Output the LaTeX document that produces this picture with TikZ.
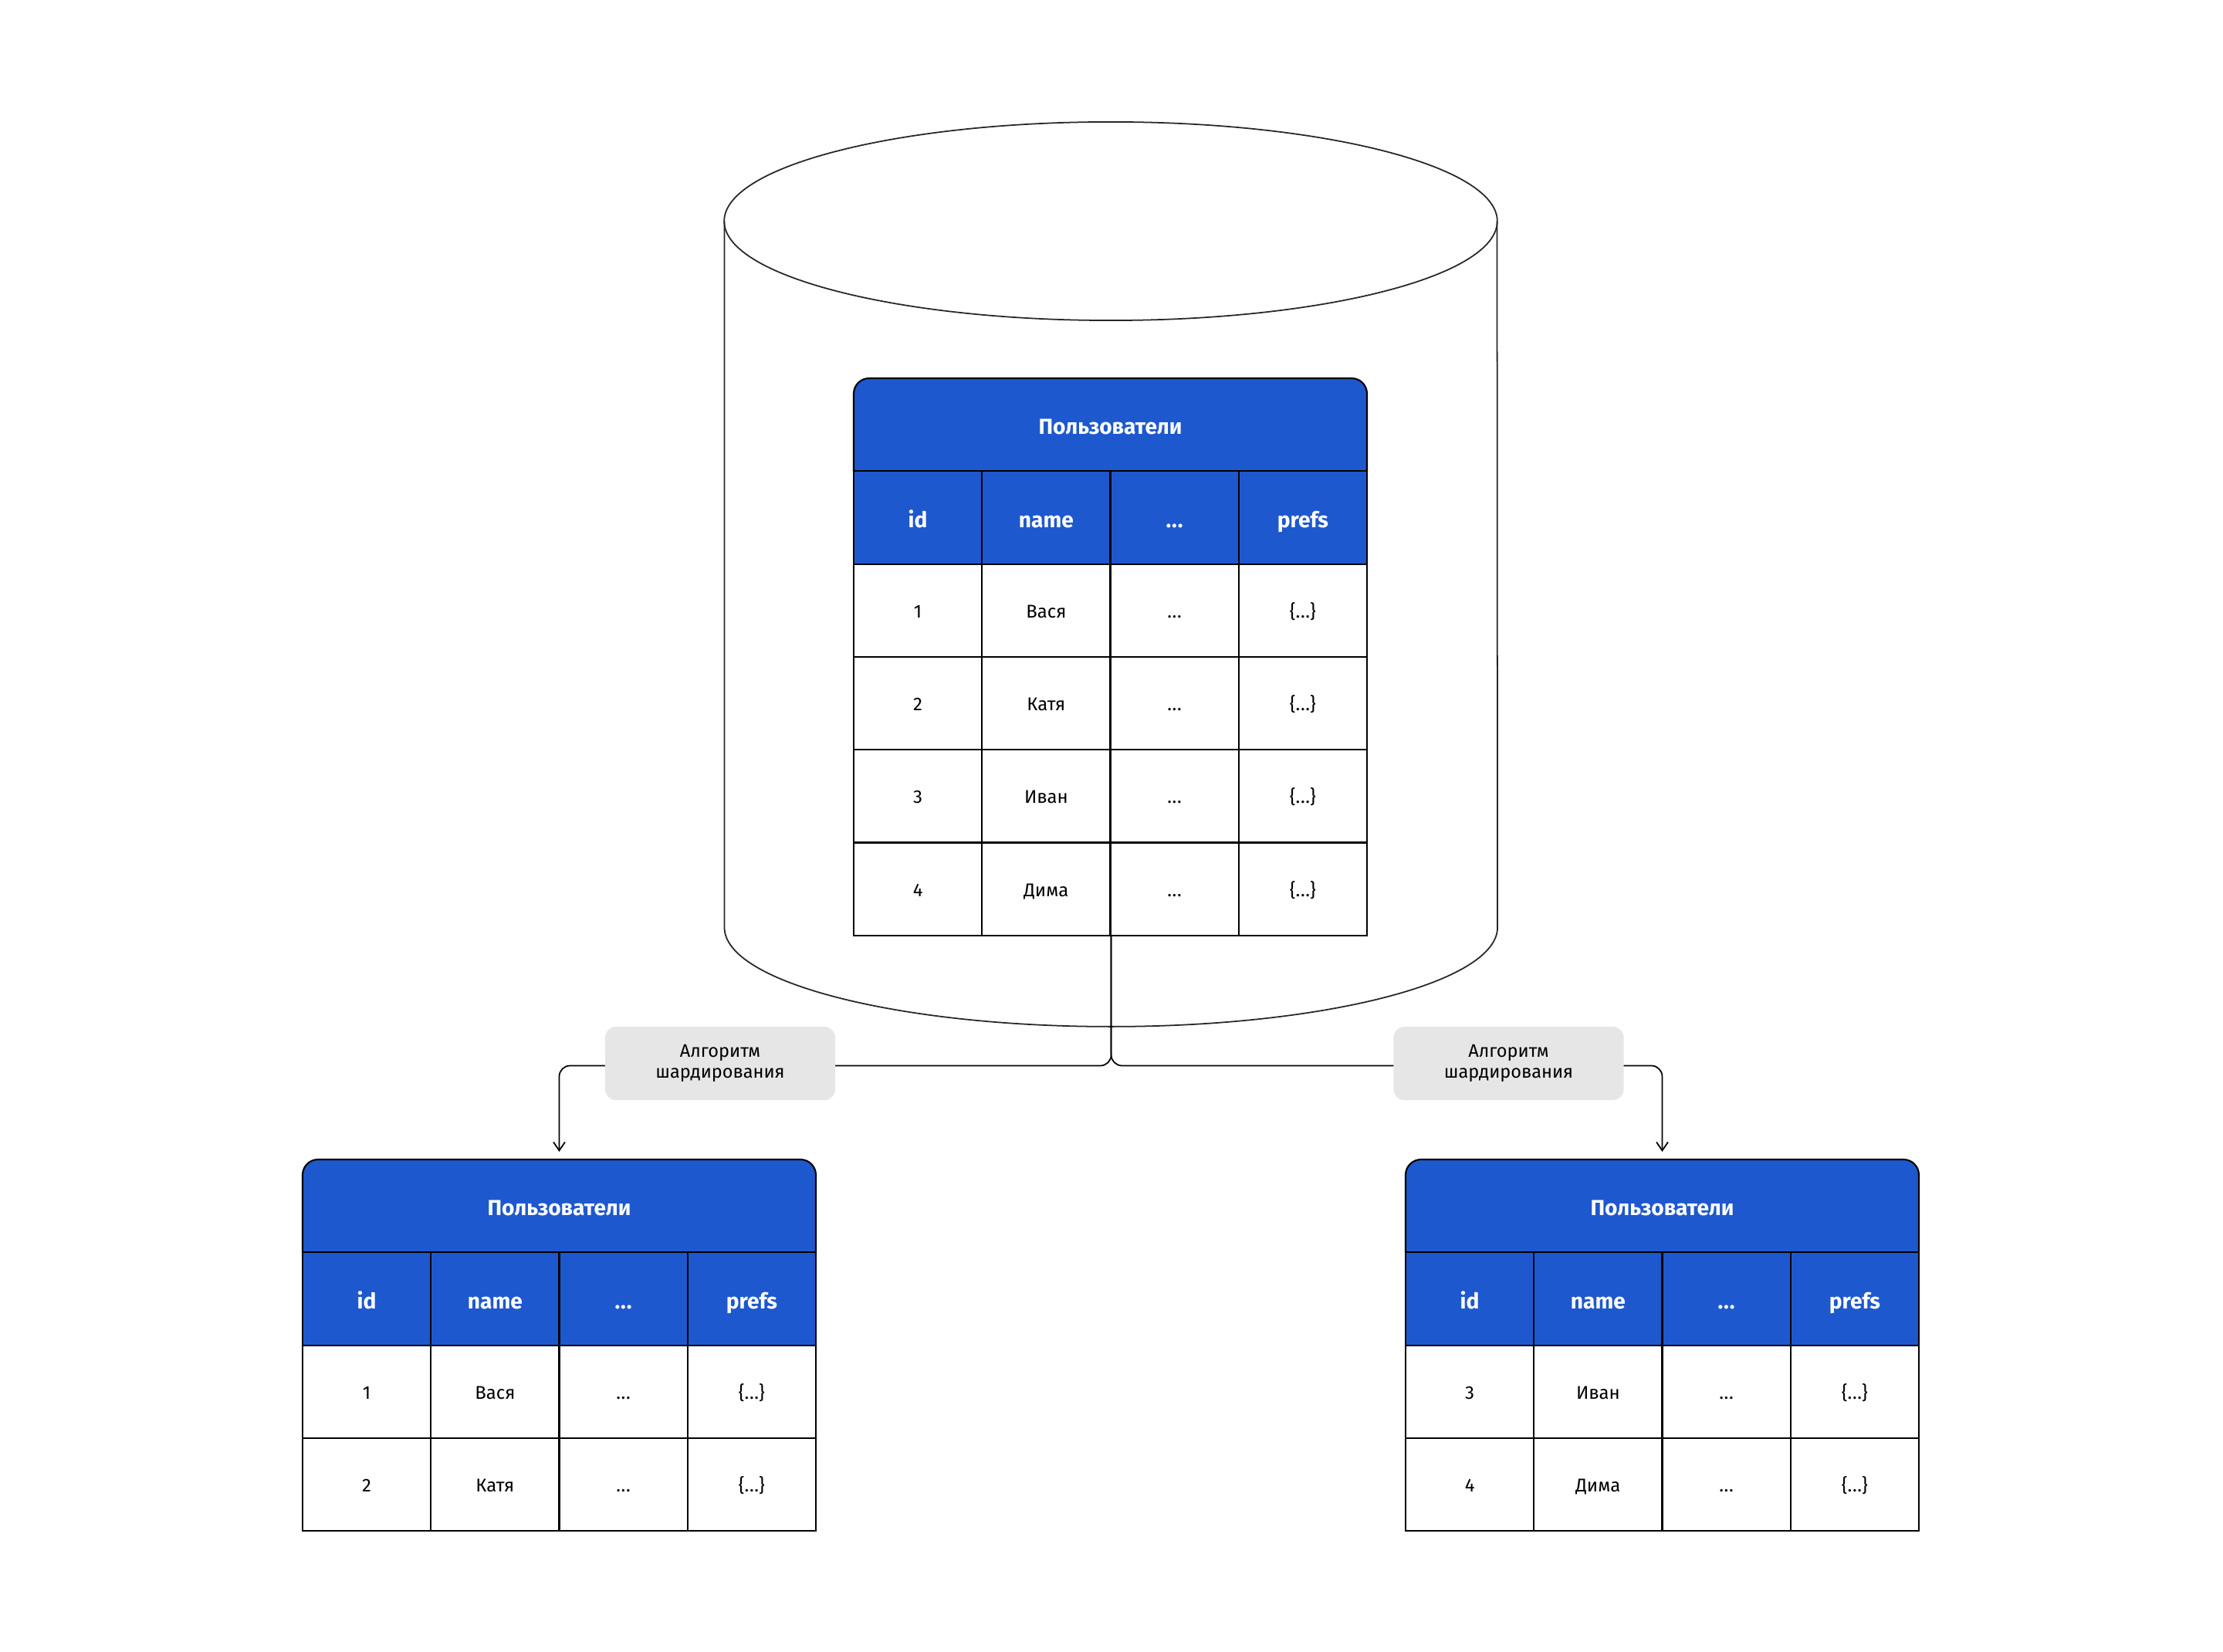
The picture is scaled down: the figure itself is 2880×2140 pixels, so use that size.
\documentclass[tikz,border=0pt]{standalone}
\usepackage{fontspec}
\setmainfont{Fira Sans}
\usetikzlibrary{arrows.meta}
\definecolor{tblue}{RGB}{30,88,206}
\definecolor{lgray}{RGB}{230,230,230}
\newcommand\mydots{.\kern0.03em.\kern0.03em.}
\tikzset{
  tline/.style={draw=black, line width=0.6pt},
  cellh/.style={draw=black, line width=0.6pt, fill=tblue, text=white, minimum width=1.6625cm, minimum height=1.203cm, inner sep=0pt, text height=8pt, text depth=0.8pt, font=\fontsize{8}{9}\selectfont\bfseries},
  cellb/.style={draw=black, line width=0.6pt, fill=white, text=black, minimum width=1.6625cm, minimum height=1.203cm, inner sep=0pt, text height=6.2pt, text depth=0.8pt, font=\fontsize{6.8}{8}\selectfont},
  titletext/.style={text=white, inner sep=0pt, text height=7.5pt, text depth=0.5pt, font=\fontsize{8}{9}\selectfont\bfseries},
  cyl/.style={draw=black!85, line width=0.5pt},
  conn/.style={draw=black, line width=0.5pt, rounded corners=0.14cm},
  algo/.style={fill=lgray, rounded corners=0.14cm, minimum width=2.98cm, minimum height=0.95cm, inner sep=0pt, align=center, font=\fontsize{6.7}{7.8}\selectfont},
  tip/.style={-{Straight Barb[length=1.1mm, width=1.5mm, line width=0.5pt]}}
}
\newcommand\dbhead[1]{%
  \fill[tblue, rounded corners=0.2cm] (0,0) rectangle (665,240.6);
  \fill[tblue] (0,120.3) rectangle (665,240.6);
  \draw[tline, rounded corners=0.2cm] (0,120.3) -- (0,0) -- (665,0) -- (665,120.3);
  \draw[tline] (0,120.3) -- (665,120.3);
  \node[titletext] (#1-title) at (332.5,60.15) {Пользователи};
  \node[cellh] (#1-h1) at (83.125,180.45) {id};
  \node[cellh] (#1-h2) at (249.375,180.45) {name};
  \node[cellh] (#1-h3) at (415.625,180.45) {\mydots};
  \node[cellh] (#1-h4) at (581.875,180.45) {prefs};
}
\newcommand\dbrow[4]{%
  \node[cellb] (#1-r#2-c1) at (83.125,300.75+#2*120.3) {#3};
  \node[cellb] (#1-r#2-c2) at (249.375,300.75+#2*120.3) {#4};
  \node[cellb] (#1-r#2-c3) at (415.625,300.75+#2*120.3) {\mydots};
  \node[cellb] (#1-r#2-c4) at (581.875,300.75+#2*120.3) {\{\mydots\}};
}
\begin{document}
\begin{tikzpicture}[x=0.01cm, y=-0.01cm]
\useasboundingbox (0,0) rectangle (2880,2140);

% cylinder
\draw[cyl] (1439,286.5) ellipse [x radius=5.005cm, y radius=1.285cm];
\draw[cyl] (938.5,286.5) -- (938.5,1201.3) arc[start angle=180, end angle=360, x radius=5.005cm, y radius=1.285cm] -- (1939.5,286.5);

% main table
\begin{scope}[shift={(1106,490)}]
  \dbhead{top}
  \dbrow{top}{0}{1}{Вася}
  \dbrow{top}{1}{2}{Катя}
  \dbrow{top}{2}{3}{Иван}
  \dbrow{top}{3}{4}{Дима}
\end{scope}

% left shard
\begin{scope}[shift={(392,1502)}]
  \dbhead{left}
  \dbrow{left}{0}{1}{Вася}
  \dbrow{left}{1}{2}{Катя}
\end{scope}

% right shard
\begin{scope}[shift={(1821,1502)}]
  \dbhead{right}
  \dbrow{right}{0}{3}{Иван}
  \dbrow{right}{1}{4}{Дима}
\end{scope}

% connectors
\coordinate (lbend) at (724.5,1380.5);
\coordinate (rbend) at (2153.5,1380.5);
\draw[conn, tip] (top-r3-c2.south east) |- (lbend) -- (left-title.north |- 0,1492);
\draw[conn, tip] (top-r3-c2.south east) |- (rbend) -- (right-title.north |- 0,1492);

% labels
\node[algo] (algL) at (933,1377.5) {Алгоритм\\шардирования};
\node[algo] (algR) at (1954.5,1377.5) {Алгоритм\\шардирования};
\end{tikzpicture}
\end{document}
